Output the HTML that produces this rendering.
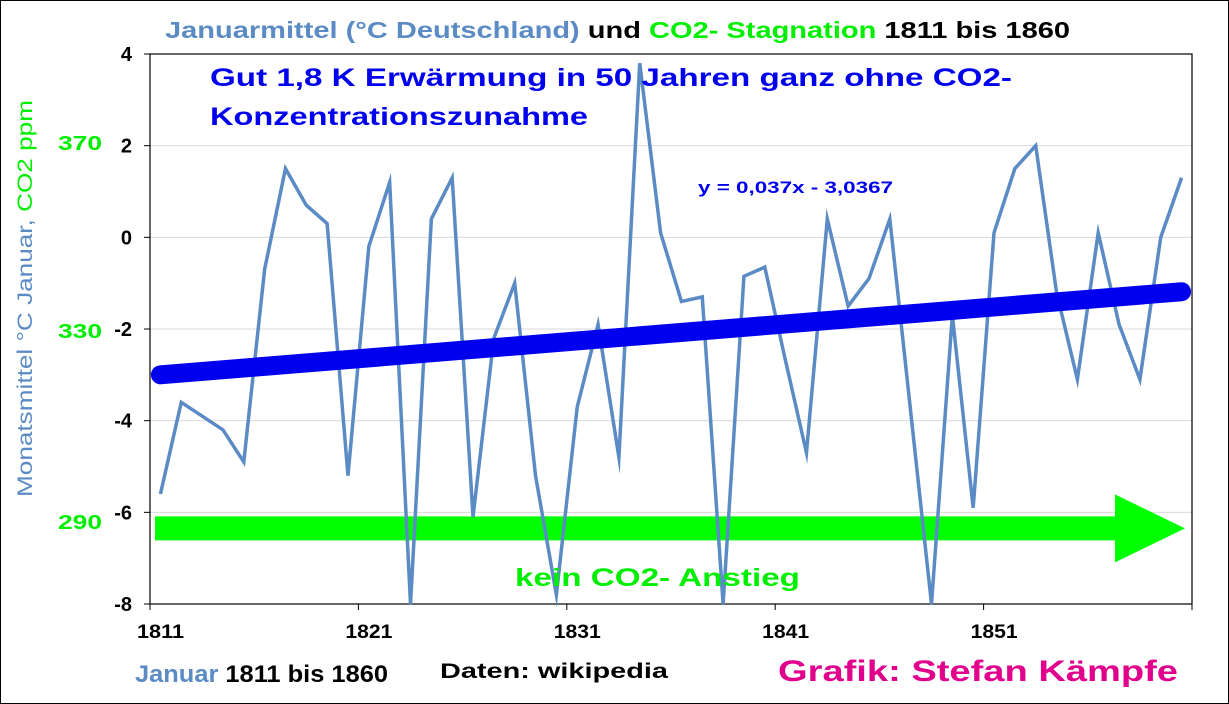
<!DOCTYPE html>
<html><head><meta charset="utf-8"><style>
html,body{margin:0;padding:0;background:#fff}
#wrap{position:relative;width:1229px;height:704px;overflow:hidden;font-family:"Liberation Sans",Arial,sans-serif}
svg{position:absolute;left:0;top:0}
text{font-family:"Liberation Sans",Arial,sans-serif;font-weight:bold}
</style></head><body>
<div id="wrap">
<svg id="chart" width="1229" height="704" viewBox="0 0 1229 704">
<rect x="0.5" y="0.5" width="1228" height="703" fill="#fff" stroke="#000" stroke-width="1"/>
<g id="grid"></g>
<g id="axes"></g>
<g id="series"></g>
<text x="165" y="38" font-size="23" textLength="905" lengthAdjust="spacingAndGlyphs"><tspan fill="#5b8bc4">Januarmittel (°C Deutschland)</tspan><tspan fill="#000"> und </tspan><tspan fill="#00ee00">CO2- Stagnation</tspan><tspan fill="#000"> 1811 bis 1860</tspan></text>
<text x="210" y="86" font-size="25" fill="#0000ee" textLength="802" lengthAdjust="spacingAndGlyphs">Gut 1,8 K Erwärmung in 50 Jahren ganz ohne CO2-</text>
<text x="210" y="125" font-size="25" fill="#0000ee" textLength="378" lengthAdjust="spacingAndGlyphs">Konzentrationszunahme</text>
<text x="698" y="193" font-size="17" fill="#0000ee" textLength="195" lengthAdjust="spacingAndGlyphs">y = 0,037x - 3,0367</text>
<text x="515" y="586" font-size="25" fill="#00ee00" textLength="285" lengthAdjust="spacingAndGlyphs">kein CO2- Anstieg</text>
<text x="58" y="150" font-size="20" fill="#00ee00" textLength="44" lengthAdjust="spacingAndGlyphs">370</text>
<text x="58" y="338" font-size="20" fill="#00ee00" textLength="44" lengthAdjust="spacingAndGlyphs">330</text>
<text x="58" y="529" font-size="20" fill="#00ee00" textLength="44" lengthAdjust="spacingAndGlyphs">290</text>
<text transform="translate(32,497) rotate(-90)" font-size="21" style="font-weight:normal" textLength="397" lengthAdjust="spacingAndGlyphs"><tspan fill="#5b8bc4">Monatsmittel °C Januar, </tspan><tspan fill="#00ee00">CO2 ppm</tspan></text>
<text x="135" y="682" font-size="24" textLength="253" lengthAdjust="spacingAndGlyphs"><tspan fill="#5b8bc4">Januar</tspan><tspan fill="#000"> 1811 bis 1860</tspan></text>
<text x="440" y="678" font-size="21" fill="#000" textLength="228" lengthAdjust="spacingAndGlyphs">Daten: wikipedia</text>
<text x="778" y="681" font-size="30" fill="#e0008c" textLength="400" lengthAdjust="spacingAndGlyphs">Grafik: Stefan Kämpfe</text>
</svg>
</div>
<script>
const years = [1811,1812,1813,1814,1815,1816,1817,1818,1819,1820,1821,1822,1823,1824,1825,1826,1827,1828,1829,1830,1831,1832,1833,1834,1835,1836,1837,1838,1839,1840,1841,1842,1843,1844,1845,1846,1847,1848,1849,1850,1851,1852,1853,1854,1855,1856,1857,1858,1859,1860];
const temps = [-5.6,-3.6,-3.9,-4.2,-4.9,-0.7,1.5,0.7,0.3,-5.2,-0.2,1.2,-8.0,0.4,1.3,-6.1,-2.2,-1.0,-5.2,-7.8,-3.7,-1.9,-4.8,3.8,0.1,-1.4,-1.3,-8.0,-0.85,-0.65,-2.7,-4.7,0.4,-1.5,-0.9,0.4,-3.8,-8.0,-1.7,-5.9,0.1,1.5,2.0,-1.2,-3.1,0.1,-1.9,-3.1,0.0,1.3];
const yTicks = [4,2,0,-2,-4,-6,-8];
const xTickLabels = [1811,1821,1831,1841,1851];
const trendSlope = 0.037;
const trendIntercept = -3.0367;
const co2Level = [-6.35];

const L=150,R=1192,T=54,B=604,yMin=-8,yMax=4;
const n=years.length;
const step=(R-L)/n;
const xCat=i=>L+(i+0.5)*step;
const xEdge=i=>L+i*step;
const yS=v=>B-(v-yMin)/(yMax-yMin)*(B-T);
const NS='http://www.w3.org/2000/svg';
function mk(tag,attrs,parent){const e=document.createElementNS(NS,tag);for(const k in attrs)e.setAttribute(k,attrs[k]);parent.appendChild(e);return e;}
const grid=document.getElementById('grid'),axes=document.getElementById('axes'),ser=document.getElementById('series');

yTicks.forEach(v=>{
  if(v!==yMin&&v!==yMax){const g=mk('line',{x1:L,x2:R,y1:yS(v),y2:yS(v),stroke:'#d9d9d9','stroke-width':1},grid);
  
  }
  const t=mk('line',{x1:L-6,x2:L,y1:yS(v),y2:yS(v),stroke:'#000','stroke-width':1},axes);
  
  
  const lb=mk('text',{x:L-18,y:yS(v)+7,'text-anchor':'end','font-size':20,fill:'#000'},axes);
  lb.textContent=v;
  
  
});
const frame=mk('rect',{x:L,y:T,width:R-L,height:B-T,fill:'none',stroke:'#000','stroke-width':1.2},axes);


xTickLabels.forEach(yr=>{
  const i=years.indexOf(yr);const x=xEdge(i);
  const t=mk('line',{x1:x,x2:x,y1:B,y2:B+6,stroke:'#000','stroke-width':1},axes);
  
  
  const lb=mk('text',{x:x-13,y:B+34,'font-size':19,fill:'#000',textLength:47,lengthAdjust:'spacingAndGlyphs'},axes);
  lb.textContent=yr;
  
  
});
const rt=mk('line',{x1:R,x2:R,y1:B,y2:B+6,stroke:'#000'},axes);



// CO2 arrow
const ay=yS(co2Level[0]);
const arrow=mk('polygon',{points:`${L+5},${ay-12} 1115,${ay-12} 1115,${ay-34} 1185,${ay} 1115,${ay+34} 1115,${ay+12} ${L+5},${ay+12}`,fill:'#00ff00'},ser);



// temperature line
const pts=temps.map((v,i)=>xCat(i)+','+yS(v)).join(' ');
const pl=mk('polyline',{points:pts,fill:'none',stroke:'#5b8bc4','stroke-width':3.5,'stroke-linejoin':'miter','stroke-miterlimit':10},ser);



// trend line
const tr=mk('line',{x1:xCat(0),y1:yS(trendSlope*1+trendIntercept),x2:xCat(n-1),y2:yS(trendSlope*n+trendIntercept),stroke:'#0000ee','stroke-width':19,'stroke-linecap':'round'},ser);


</script>
</body></html>
